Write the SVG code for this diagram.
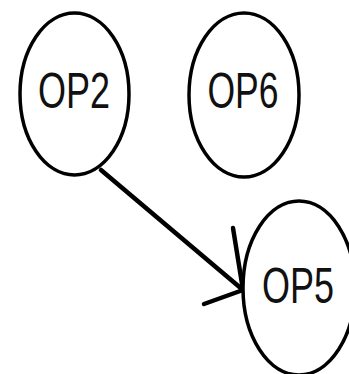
<svg xmlns="http://www.w3.org/2000/svg" width="349" height="374" viewBox="0 0 349 374">
<style>
.node ellipse{fill:#fff;stroke:#000;stroke-width:3.5}
.node text{font-family:"Liberation Sans",Arial,sans-serif;font-size:50px;fill:#111;text-anchor:middle}
.edge{fill:none;stroke:#000;stroke-width:4.5;stroke-linecap:round;stroke-linejoin:round}
</style>
<rect width="349" height="374" fill="#fff"/>
<g id="connectors">
<path class="edge" d="M101,170 L243,290"/>
<path class="edge" d="M233,228 L243,290 L204,304"/>
</g>
<g id="OP2" class="node">
<ellipse cx="74.5" cy="94" rx="54.5" ry="81"/>
<text x="74" y="108" textLength="72" lengthAdjust="spacingAndGlyphs">OP2</text>
</g>
<g id="OP6" class="node">
<ellipse cx="244" cy="95" rx="55" ry="82"/>
<text x="243" y="108" textLength="71" lengthAdjust="spacingAndGlyphs">OP6</text>
</g>
<g id="OP5" class="node">
<ellipse cx="299" cy="288" rx="56" ry="87"/>
<text x="298" y="303" textLength="72" lengthAdjust="spacingAndGlyphs">OP5</text>
</g>
</svg>
